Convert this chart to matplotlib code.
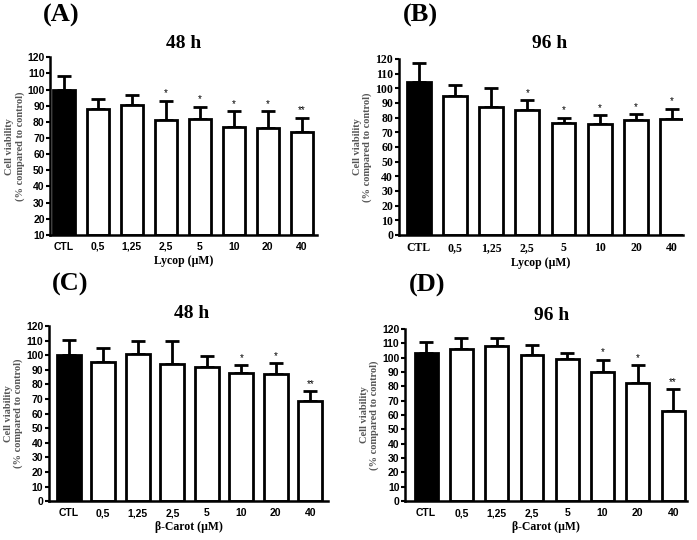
import matplotlib
matplotlib.use("Agg")
import matplotlib.pyplot as plt

# Concentration labels on the x axis
doses = ["CTL", "0,5", "1,25", "2,5", "5", "10", "20", "40"]

# Mean cell viability (% of control) and upper error (SD) top, per panel
lycop_48_mean = [100, 88, 90.5, 81, 81.5, 76.5, 76, 73.5]
lycop_48_top = [108.5, 94, 96.5, 93, 89.5, 86.5, 86.5, 82.5]
lycop_48_sig = ["", "", "", "*", "*", "*", "*", "**"]

lycop_96_mean = [104, 95, 87, 85, 76, 75.5, 78.5, 79]
lycop_96_top = [117, 102, 100, 92, 80, 81.5, 82.5, 86]
lycop_96_sig = ["", "", "", "*", "*", "*", "*", "*"]

carot_48_mean = [100, 95.5, 101, 94, 92, 88, 87, 68.5]
carot_48_top = [110.5, 105, 109.5, 110, 99.5, 93.5, 94.5, 75.5]
carot_48_sig = ["", "", "", "", "", "*", "*", "**"]

carot_96_mean = [103, 106, 108, 101.5, 99, 90, 82, 63]
carot_96_top = [111, 113.5, 113.5, 109, 103, 98.5, 95, 78]
carot_96_sig = ["", "", "", "", "", "*", "*", "**"]

SERIF = "Liberation Serif"
SANS = "Liberation Sans"


def draw_panel(fig, rect, mean, top, sig, letter, title, xlabel,
               ymin, xlim, width, tick_font, tick_size, letter_xy, title_xy):
    ax = fig.add_axes(rect)
    x = list(range(len(doses)))
    colors = ["black"] + ["white"] * (len(doses) - 1)
    err = [t - m for t, m in zip(top, mean)]
    ax.bar(x, [m - ymin for m in mean], bottom=ymin, width=width,
           color=colors, edgecolor="black", linewidth=2, zorder=2)
    ax.errorbar(x, mean, yerr=[[0] * len(x), err], fmt="none",
                ecolor="black", elinewidth=2, capsize=5, capthick=2, zorder=1)
    for xi, t, s in zip(x, top, sig):
        if s:
            ax.text(xi, t + 1.5, s, ha="center", va="bottom", fontsize=7,
                    family=SANS)

    ax.set_ylim(ymin, 120)
    ax.set_xlim(*xlim)
    ax.set_yticks(range(ymin, 121, 10))
    ax.set_xticks(x)
    ax.set_xticklabels(doses)
    for sp in ["top", "right"]:
        ax.spines[sp].set_visible(False)
    for sp in ["left", "bottom"]:
        ax.spines[sp].set_linewidth(1.8)
    ax.tick_params(axis="x", length=0, pad=5)
    ax.tick_params(axis="y", length=3, width=1.5, pad=1)
    for lab in ax.get_xticklabels() + ax.get_yticklabels():
        lab.set_fontfamily(tick_font)
        lab.set_fontweight("bold")
        lab.set_fontsize(tick_size)

    ax.set_xlabel(xlabel, fontsize=8.5, fontweight="bold", family=SERIF,
                  labelpad=2)
    ax.set_ylabel("Cell viability\n(% compared to control)", fontsize=7.5,
                  fontweight="bold", family=SERIF, color="#555555",
                  labelpad=2, linespacing=1.1)
    fig.text(letter_xy[0], letter_xy[1], letter, fontsize=19,
             fontweight="bold", family=SERIF, ha="left", va="center")
    ax.text(title_xy[0], title_xy[1], title, transform=ax.transAxes,
            fontsize=14, fontweight="bold", family=SERIF,
            ha="center", va="center")
    return ax


fig = plt.figure(figsize=(6.97, 5.4), dpi=100)

draw_panel(fig, [0.072, 0.565, 0.383, 0.329], lycop_48_mean, lycop_48_top,
           lycop_48_sig, "(A)", "48 h", "Lycop (\u00b5M)", 10,
           (-0.4, 7.45), 0.65, SANS, 7.5, (0.062, 0.972), (0.5, 1.08))
draw_panel(fig, [0.572, 0.565, 0.408, 0.326], lycop_96_mean, lycop_96_top,
           lycop_96_sig, "(B)", "96 h", "Lycop (\u00b5M)", 0,
           (-0.55, 7.3), 0.66, SERIF, 8.5, (0.578, 0.972), (0.53, 1.09))
draw_panel(fig, [0.070, 0.072, 0.401, 0.324], carot_48_mean, carot_48_top,
           carot_48_sig, "(C)", "48 h", "\u03b2-Carot (\u00b5M)", 0,
           (-0.58, 7.52), 0.7, SANS, 7.5, (0.074, 0.474), (0.51, 1.075))
draw_panel(fig, [0.581, 0.072, 0.405, 0.319], carot_96_mean, carot_96_top,
           carot_96_sig, "(D)", "96 h", "\u03b2-Carot (\u00b5M)", 0,
           (-0.6, 7.4), 0.65, SANS, 7.5, (0.586, 0.472), (0.52, 1.08))

fig.savefig("out.png", dpi=100)
